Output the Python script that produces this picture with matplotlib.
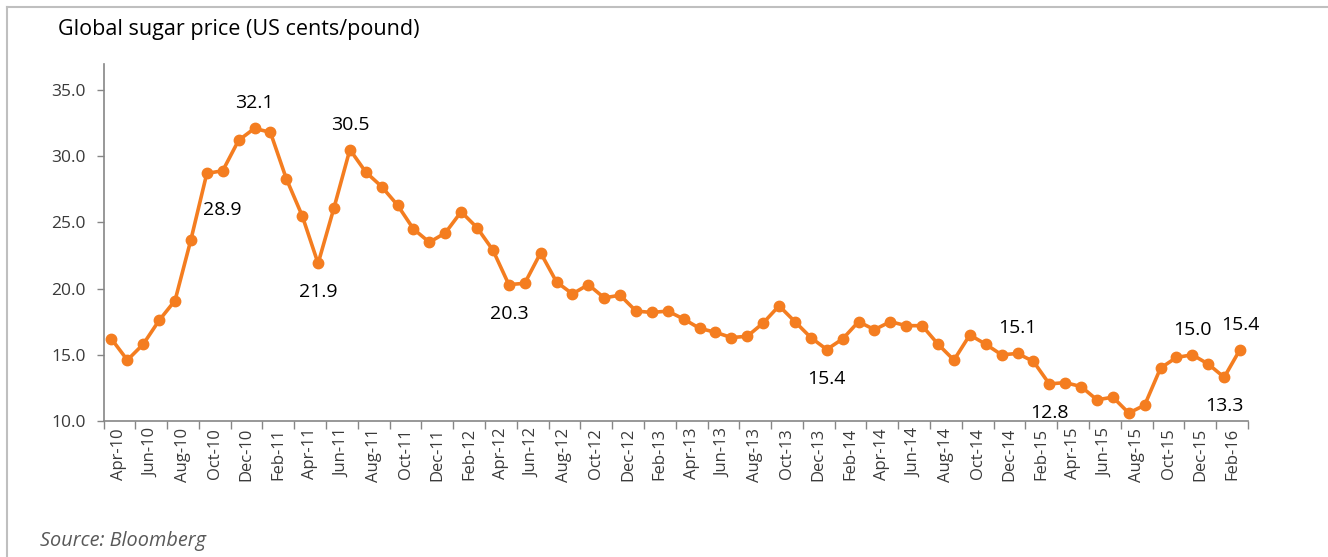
import matplotlib
matplotlib.use("Agg")
import matplotlib.pyplot as plt
from matplotlib.lines import Line2D

# ---- data ----
months = ["Apr-10", "May-10", "Jun-10", "Jul-10", "Aug-10", "Sep-10", "Oct-10", "Nov-10", "Dec-10",
          "Jan-11", "Feb-11", "Mar-11", "Apr-11", "May-11", "Jun-11", "Jul-11", "Aug-11", "Sep-11",
          "Oct-11", "Nov-11", "Dec-11", "Jan-12", "Feb-12", "Mar-12", "Apr-12", "May-12", "Jun-12",
          "Jul-12", "Aug-12", "Sep-12", "Oct-12", "Nov-12", "Dec-12", "Jan-13", "Feb-13", "Mar-13",
          "Apr-13", "May-13", "Jun-13", "Jul-13", "Aug-13", "Sep-13", "Oct-13", "Nov-13", "Dec-13",
          "Jan-14", "Feb-14", "Mar-14", "Apr-14", "May-14", "Jun-14", "Jul-14", "Aug-14", "Sep-14",
          "Oct-14", "Nov-14", "Dec-14", "Jan-15", "Feb-15", "Mar-15", "Apr-15", "May-15", "Jun-15",
          "Jul-15", "Aug-15", "Sep-15", "Oct-15", "Nov-15", "Dec-15", "Jan-16", "Feb-16", "Mar-16"]
prices = [16.2, 14.6, 15.8, 17.6, 19.1, 23.7, 28.7, 28.9, 31.2,
          32.1, 31.8, 28.3, 25.5, 21.9, 26.1, 30.5, 28.8, 27.7,
          26.3, 24.5, 23.5, 24.2, 25.8, 24.6, 22.9, 20.3, 20.4,
          22.7, 20.5, 19.6, 20.3, 19.3, 19.5, 18.3, 18.2, 18.3,
          17.7, 17.0, 16.7, 16.3, 16.4, 17.4, 18.7, 17.5, 16.3,
          15.4, 16.2, 17.5, 16.9, 17.5, 17.2, 17.2, 15.8, 14.6,
          16.5, 15.8, 15.0, 15.1, 14.5, 12.8, 12.9, 12.6, 11.6,
          11.8, 10.6, 11.2, 14.0, 14.8, 15.0, 14.3, 13.3, 15.4]
tick_labels = months[::2]
labeled_above = ["Jan-11", "Jul-11", "Jan-15", "Dec-15", "Mar-16"]
labeled_below = ["Nov-10", "May-11", "May-12", "Jan-14", "Mar-15", "Feb-16"]
y_ticks = [10, 15, 20, 25, 30, 35]

# ---- figure ----
W, H, DPI = 1328, 557, 100
fig = plt.figure(figsize=(W / DPI, H / DPI), dpi=DPI)
fig.patch.set_facecolor("white")

x0, x1 = 103.5, 1248
ytop, ybot = 63.5, 421
ax = fig.add_axes([x0 / W, (H - ybot) / H, (x1 - x0) / W, (ybot - ytop) / H])

FONT = "Open Sans"
ORANGE = "#F47D20"
AXC = "#868686"
TXT = "#3A3A3A"

x = list(range(len(prices)))
ax.plot(x, prices, color=ORANGE, lw=2.6, marker="o", ms=7.5, mfc=ORANGE, mec=ORANGE,
        solid_joinstyle="round", zorder=3)

ax.set_xlim(-0.5, len(prices) - 0.5)
ax.set_ylim(10, 37)

# y axis
ax.set_yticks(y_ticks)
ax.set_yticklabels([f"{v:.1f}" for v in y_ticks], fontfamily=FONT, fontsize=12.5, color=TXT)
ax.tick_params(axis="y", direction="out", length=5, width=1, color=AXC, pad=8)

# x axis: major ticks at 2-month boundaries, labels centred in between
major = [i - 0.5 for i in range(0, len(prices) + 1, 2)]
ax.set_xticks(major)
ax.set_xticklabels([])
ax.tick_params(axis="x", which="major", direction="out", length=6, width=1, color=AXC)
minor = [i + 0.5 for i in range(0, len(prices), 2)]
ax.set_xticks(minor, minor=True)
ax.set_xticklabels(tick_labels, minor=True, rotation=90, fontfamily=FONT, fontsize=12, color=TXT)
ax.tick_params(axis="x", which="minor", length=0, pad=5)

for s in ["top", "right"]:
    ax.spines[s].set_visible(False)
for s in ["left", "bottom"]:
    ax.spines[s].set_color(AXC)
    ax.spines[s].set_linewidth(1.2)

# data labels
for m in labeled_above:
    i = months.index(m)
    ax.annotate(f"{prices[i]:.1f}", (i, prices[i]), xytext=(0, 25), textcoords="offset pixels",
                ha="center", va="center", fontfamily=FONT, fontsize=14, color="black")
for m in labeled_below:
    i = months.index(m)
    off = -39 if m == "Nov-10" else -29
    ax.annotate(f"{prices[i]:.1f}", (i, prices[i]), xytext=(0, off), textcoords="offset pixels",
                ha="center", va="center", fontfamily=FONT, fontsize=14, color="black")

# title & source
fig.text(58 / W, 1 - 30 / H, "Global sugar price (US cents/pound)", ha="left", va="center",
         fontfamily=FONT, fontsize=15.5, color="black")
fig.text(40 / W, 1 - 541 / H, "Source: Bloomberg", ha="left", va="center",
         fontfamily=FONT, fontstyle="italic", fontsize=14.3, color="#595959")

# frame
FR = "#BFBFBF"
fig.add_artist(Line2D([7 / W, 7 / W], [0, 1 - 7 / H], color=FR, lw=1.5, transform=fig.transFigure))
fig.add_artist(Line2D([7 / W, 1], [1 - 7 / H, 1 - 7 / H], color=FR, lw=1.5, transform=fig.transFigure))

fig.savefig("out.png", dpi=DPI, facecolor="white")
